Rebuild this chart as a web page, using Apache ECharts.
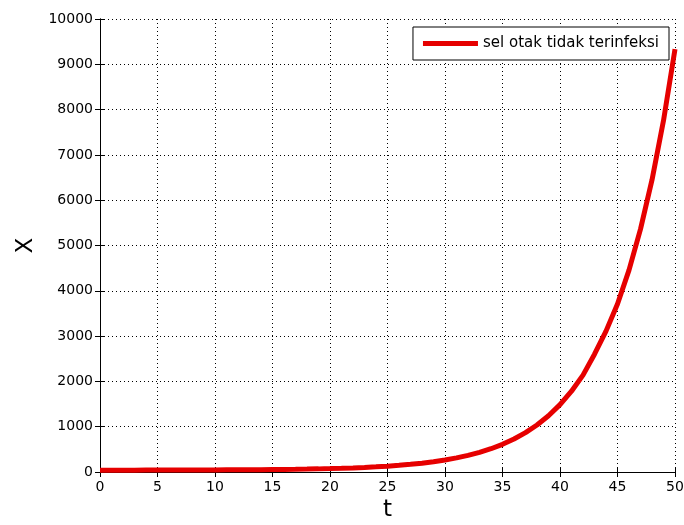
<!DOCTYPE html>
<html>
<head>
<meta charset="utf-8">
<script src="https://cdn.jsdelivr.net/npm/echarts@6/dist/echarts.min.js"></script>
<style>
  html, body { margin: 0; padding: 0; background: #fff; }
  #chart { width: 684px; height: 525px; }
</style>
</head>
<body>
<div id="chart"></div>
<script>
// Time steps t = 0 .. 50
const tValues = [
  0, 1, 2, 3, 4, 5, 6, 7, 8, 9,
  10, 11, 12, 13, 14, 15, 16, 17, 18, 19,
  20, 21, 22, 23, 24, 25, 26, 27, 28, 29,
  30, 31, 32, 33, 34, 35, 36, 37, 38, 39,
  40, 41, 42, 43, 44, 45, 46, 47, 48, 49, 50
];
// Uninfected brain cells X(t)
const xValues = [
  41, 41, 41, 41, 42, 42, 43, 43, 44, 45,
  45, 47, 48, 50, 51, 54, 57, 60, 64, 69,
  75, 82, 91, 101, 114, 129, 147, 169, 195, 227,
  265, 311, 367, 434, 514, 611, 728, 868, 1038, 1242,
  1487, 1783, 2139, 2600, 3110, 3708, 4457, 5360, 6448, 7758, 9337
];
const seriesName = 'sel otak tidak terinfeksi';
const xTicks = [0, 5, 10, 15, 20, 25, 30, 35, 40, 45, 50];
const yTicks = [0, 1000, 2000, 3000, 4000, 5000, 6000, 7000, 8000, 9000, 10000];

const points = tValues.map((t, i) => [t, xValues[i]]);
const font = 'DejaVu Sans';

const gridDots = { show: true, lineStyle: { color: '#000', width: 1, type: [1, 3] } };

const chart = echarts.init(document.getElementById('chart'));
chart.setOption({
  animation: false,
  backgroundColor: '#fff',
  grid: { left: 100, right: 9, top: 19, bottom: 53, containLabel: false, outerBoundsMode: 'none' },
  legend: {
    right: 15, top: 27,
    backgroundColor: '#fff',
    borderColor: '#000', borderWidth: 1,
    padding: [9, 10, 9, 10],
    icon: 'rect',
    itemWidth: 55, itemHeight: 5,
    textStyle: { fontFamily: font, fontSize: 15, color: '#000' },
    data: [seriesName]
  },
  xAxis: [{
    type: 'value',
    min: xTicks[0], max: xTicks[xTicks.length - 1], interval: 5,
    name: 't', nameLocation: 'middle', nameGap: 27,
    nameTextStyle: { fontFamily: font, fontSize: 23, color: '#000' },
    axisLine: { show: true, lineStyle: { color: '#000', width: 1 } },
    axisTick: { show: true, inside: true, length: 5, lineStyle: { color: '#000' } },
    axisLabel: { fontFamily: font, fontSize: 14, color: '#000', margin: 8, formatter: v => String(v) },
    splitLine: gridDots
  }, {
    type: 'value', position: 'top',
    min: xTicks[0], max: xTicks[xTicks.length - 1], interval: 5,
    axisLine: { show: true, lineStyle: { color: '#000', width: 1 } },
    axisTick: { show: true, inside: true, length: 5, lineStyle: { color: '#000' } },
    axisLabel: { show: false },
    splitLine: { show: false }
  }],
  yAxis: [{
    type: 'value',
    min: yTicks[0], max: yTicks[yTicks.length - 1], interval: 1000,
    name: 'X', nameLocation: 'middle', nameGap: 62,
    nameTextStyle: { fontFamily: font, fontSize: 23, color: '#000' },
    axisLine: { show: true, lineStyle: { color: '#000', width: 1 } },
    axisTick: { show: true, inside: true, length: 5, lineStyle: { color: '#000' } },
    axisLabel: { fontFamily: font, fontSize: 14, color: '#000', margin: 7, formatter: v => String(v) },
    splitLine: gridDots
  }, {
    type: 'value', position: 'right',
    min: yTicks[0], max: yTicks[yTicks.length - 1], interval: 1000,
    axisLine: { show: true, lineStyle: { color: '#000', width: 1 } },
    axisTick: { show: true, inside: true, length: 5, lineStyle: { color: '#000' } },
    axisLabel: { show: false },
    splitLine: { show: false }
  }],
  series: [{
    name: seriesName,
    type: 'line',
    data: points,
    showSymbol: false,
    symbol: 'none',
    smooth: false,
    clip: false,
    lineStyle: { color: '#e60000', width: 5 },
    itemStyle: { color: '#e60000' },
    z: 3
  }]
});
</script>
</body>
</html>
